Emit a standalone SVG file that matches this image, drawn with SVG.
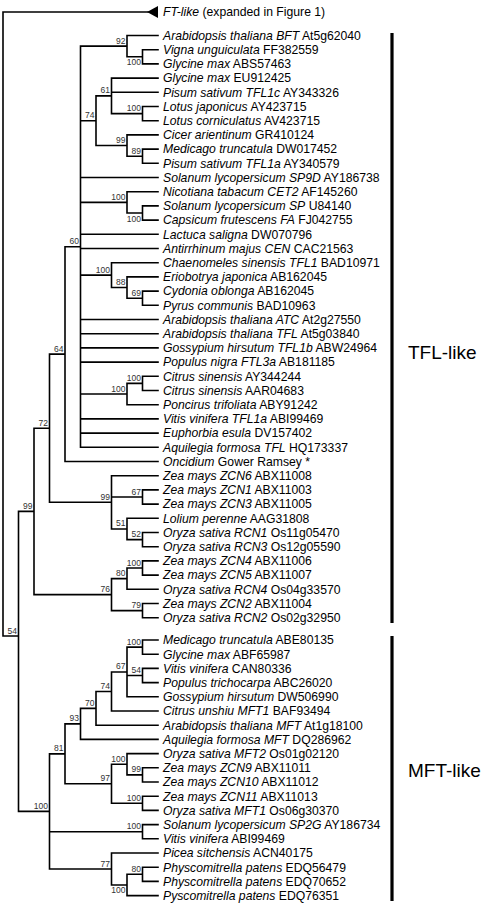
<svg xmlns="http://www.w3.org/2000/svg" width="497" height="907" viewBox="0 0 497 907">
<style>
.lf{font-family:"Liberation Sans",Arial,sans-serif;font-size:12.2px;fill:#000}
.i{font-style:italic}
.bs{font-family:"Liberation Sans",Arial,sans-serif;font-size:8.5px;fill:#333;text-anchor:end}
.edge{fill:none;stroke:#000;stroke-width:1.6;stroke-linecap:square}
.bar{stroke:#000;stroke-width:3.2}
.clade{font-family:"Liberation Sans",Arial,sans-serif;font-size:19px;fill:#000}
</style>
<rect width="497" height="907" fill="#fff"/>
<g id="connectors" class="edge">
<path d="M3 12V636M3 12H148M3 636H18.5
M18.5 511.4V811.4M18.5 511.4H34M18.5 811.4H49.5
M34 428.2V594.6M34 428.2H49.5M34 594.6H111.5
M49.5 354.1V502.3M49.5 354.1H65M49.5 502.3H111.5
M65 246.7V461.5M65 246.7H80.5M65 461.5H158
M80.5 46.15V447.3M80.5 46.15H127M80.5 120.7H96M80.5 177.5H158M80.5 202.35H127M80.5 234.3H158M80.5 248.5H158M80.5 275.1H111.5M80.5 319.5H158M80.5 333.7H158M80.5 347.9H158M80.5 362.1H158M80.5 394.05H127M80.5 418.9H158M80.5 433.1H158M80.5 447.3H158
M127 35.5V56.8M127 35.5H158M127 56.8H142.5
M142.5 49.7V63.9M142.5 49.7H158M142.5 63.9H158
M96 95.85V145.55M96 95.85H111.5M96 145.55H127
M111.5 78.1V113.6M111.5 78.1H158M111.5 92.3H158M111.5 113.6H142.5
M142.5 106.5V120.7M142.5 106.5H158M142.5 120.7H158
M127 134.9V156.2M127 134.9H158M127 156.2H142.5
M142.5 149.1V163.3M142.5 149.1H158M142.5 163.3H158
M127 191.7V213M127 191.7H158M127 213H142.5
M142.5 205.9V220.1M142.5 205.9H158M142.5 220.1H158
M111.5 262.7V287.55M111.5 262.7H158M111.5 287.55H127
M127 276.9V298.2M127 276.9H158M127 298.2H142.5
M142.5 291.1V305.3M142.5 291.1H158M142.5 305.3H158
M127 383.4V404.7M127 383.4H142.5M127 404.7H158
M142.5 376.3V390.5M142.5 376.3H158M142.5 390.5H158
M111.5 475.7V528.95M111.5 475.7H158M111.5 497H142.5M111.5 528.95H127
M142.5 489.9V504.1M142.5 489.9H158M142.5 504.1H158
M127 518.3V539.6M127 518.3H158M127 539.6H142.5
M142.5 532.5V546.7M142.5 532.5H158M142.5 546.7H158
M111.5 578.65V610.6M111.5 578.65H127M111.5 610.6H142.5
M127 568V589.3M127 568H142.5M127 589.3H158
M142.5 560.9V575.1M142.5 560.9H158M142.5 575.1H158
M142.5 603.5V617.7M142.5 603.5H158M142.5 617.7H158
M49.5 753.85V868.98M49.5 753.85H65M49.5 831.7H142.5M49.5 868.98H111.5
M65 723.9V783.8M65 723.9H80.5M65 783.8H111.5
M80.5 708.35V739.4M80.5 708.35H96M80.5 739.4H158
M96 691.5V725.2M96 691.5H111.5M96 725.2H158
M111.5 671.95V711M111.5 671.95H127M111.5 711H158
M127 647.1V696.8M127 647.1H142.5M127 675.5H142.5M127 696.8H158
M142.5 640V654.2M142.5 640H158M142.5 654.2H158
M142.5 668.4V682.6M142.5 668.4H158M142.5 682.6H158
M111.5 764.25V803.3M111.5 764.25H127M111.5 803.3H142.5
M127 753.6V774.9M127 753.6H158M127 774.9H142.5
M142.5 767.8V782M142.5 767.8H158M142.5 782H158
M142.5 796.2V810.4M142.5 796.2H158M142.5 810.4H158
M142.5 824.6V838.8M142.5 824.6H158M142.5 838.8H158
M111.5 853V884.95M111.5 853H158M111.5 884.95H127
M127 874.3V895.6M127 874.3H142.5M127 895.6H158
M142.5 867.2V881.4M142.5 867.2H158M142.5 881.4H158"/>
</g>
<g id="ft-like">
<polygon points="147,12 158,6 158,18" fill="#000"/>
<text class="lf" x="163" y="16.3"><tspan class="i">FT-like</tspan> (expanded in Figure 1)</text>
</g>
<g id="leaves">
<g id="l1"><text class="lf" x="163" y="39.8"><tspan class="i">Arabidopsis thaliana BFT</tspan> At5g62040</text></g>
<g id="l2"><text class="lf" x="163" y="54"><tspan class="i">Vigna unguiculata</tspan> FF382559</text></g>
<g id="l3"><text class="lf" x="163" y="68.2"><tspan class="i">Glycine max</tspan> ABS57463</text></g>
<g id="l4"><text class="lf" x="163" y="82.4"><tspan class="i">Glycine max</tspan> EU912425</text></g>
<g id="l5"><text class="lf" x="163" y="96.6"><tspan class="i">Pisum sativum TFL1c</tspan> AY343326</text></g>
<g id="l6"><text class="lf" x="163" y="110.8"><tspan class="i">Lotus japonicus</tspan> AY423715</text></g>
<g id="l7"><text class="lf" x="163" y="125"><tspan class="i">Lotus corniculatus</tspan> AV423715</text></g>
<g id="l8"><text class="lf" x="163" y="139.2"><tspan class="i">Cicer arientinum</tspan> GR410124</text></g>
<g id="l9"><text class="lf" x="163" y="153.4"><tspan class="i">Medicago truncatula</tspan> DW017452</text></g>
<g id="l10"><text class="lf" x="163" y="167.6"><tspan class="i">Pisum sativum TFL1a</tspan> AY340579</text></g>
<g id="l11"><text class="lf" x="163" y="181.8"><tspan class="i">Solanum lycopersicum SP9D</tspan> AY186738</text></g>
<g id="l12"><text class="lf" x="163" y="196"><tspan class="i">Nicotiana tabacum CET2</tspan> AF145260</text></g>
<g id="l13"><text class="lf" x="163" y="210.2"><tspan class="i">Solanum lycopersicum SP</tspan> U84140</text></g>
<g id="l14"><text class="lf" x="163" y="224.4"><tspan class="i">Capsicum frutescens FA</tspan> FJ042755</text></g>
<g id="l15"><text class="lf" x="163" y="238.6"><tspan class="i">Lactuca saligna</tspan> DW070796</text></g>
<g id="l16"><text class="lf" x="163" y="252.8"><tspan class="i">Antirrhinum majus CEN</tspan> CAC21563</text></g>
<g id="l17"><text class="lf" x="163" y="267"><tspan class="i">Chaenomeles sinensis TFL1</tspan> BAD10971</text></g>
<g id="l18"><text class="lf" x="163" y="281.2"><tspan class="i">Eriobotrya japonica</tspan> AB162045</text></g>
<g id="l19"><text class="lf" x="163" y="295.4"><tspan class="i">Cydonia oblonga</tspan> AB162045</text></g>
<g id="l20"><text class="lf" x="163" y="309.6"><tspan class="i">Pyrus communis</tspan> BAD10963</text></g>
<g id="l21"><text class="lf" x="163" y="323.8"><tspan class="i">Arabidopsis thaliana ATC</tspan> At2g27550</text></g>
<g id="l22"><text class="lf" x="163" y="338"><tspan class="i">Arabidopsis thaliana TFL</tspan> At5g03840</text></g>
<g id="l23"><text class="lf" x="163" y="352.2"><tspan class="i">Gossypium hirsutum TFL1b</tspan> ABW24964</text></g>
<g id="l24"><text class="lf" x="163" y="366.4"><tspan class="i">Populus nigra FTL3a</tspan> AB181185</text></g>
<g id="l25"><text class="lf" x="163" y="380.6"><tspan class="i">Citrus sinensis</tspan> AY344244</text></g>
<g id="l26"><text class="lf" x="163" y="394.8"><tspan class="i">Citrus sinensis</tspan> AAR04683</text></g>
<g id="l27"><text class="lf" x="163" y="409"><tspan class="i">Poncirus trifoliata</tspan> ABY91242</text></g>
<g id="l28"><text class="lf" x="163" y="423.2"><tspan class="i">Vitis vinifera TFL1a</tspan> ABI99469</text></g>
<g id="l29"><text class="lf" x="163" y="437.4"><tspan class="i">Euphorbia esula</tspan> DV157402</text></g>
<g id="l30"><text class="lf" x="163" y="451.6"><tspan class="i">Aquilegia formosa TFL</tspan> HQ173337</text></g>
<g id="l31"><text class="lf" x="163" y="465.8"><tspan class="i">Oncidium</tspan> Gower Ramsey *</text></g>
<g id="l32"><text class="lf" x="163" y="480"><tspan class="i">Zea mays ZCN6</tspan> ABX11008</text></g>
<g id="l33"><text class="lf" x="163" y="494.2"><tspan class="i">Zea mays ZCN1</tspan> ABX11003</text></g>
<g id="l34"><text class="lf" x="163" y="508.4"><tspan class="i">Zea mays ZCN3</tspan> ABX11005</text></g>
<g id="l35"><text class="lf" x="163" y="522.6"><tspan class="i">Lolium perenne</tspan> AAG31808</text></g>
<g id="l36"><text class="lf" x="163" y="536.8"><tspan class="i">Oryza sativa RCN1</tspan> Os11g05470</text></g>
<g id="l37"><text class="lf" x="163" y="551"><tspan class="i">Oryza sativa RCN3</tspan> Os12g05590</text></g>
<g id="l38"><text class="lf" x="163" y="565.2"><tspan class="i">Zea mays ZCN4</tspan> ABX11006</text></g>
<g id="l39"><text class="lf" x="163" y="579.4"><tspan class="i">Zea mays ZCN5</tspan> ABX11007</text></g>
<g id="l40"><text class="lf" x="163" y="593.6"><tspan class="i">Oryza sativa RCN4</tspan> Os04g33570</text></g>
<g id="l41"><text class="lf" x="163" y="607.8"><tspan class="i">Zea mays ZCN2</tspan> ABX11004</text></g>
<g id="l42"><text class="lf" x="163" y="622"><tspan class="i">Oryza sativa RCN2</tspan> Os02g32950</text></g>
<g id="l43"><text class="lf" x="163" y="644.3"><tspan class="i">Medicago truncatula</tspan> ABE80135</text></g>
<g id="l44"><text class="lf" x="163" y="658.5"><tspan class="i">Glycine max</tspan> ABF65987</text></g>
<g id="l45"><text class="lf" x="163" y="672.7"><tspan class="i">Vitis vinifera</tspan> CAN80336</text></g>
<g id="l46"><text class="lf" x="163" y="686.9"><tspan class="i">Populus trichocarpa</tspan> ABC26020</text></g>
<g id="l47"><text class="lf" x="163" y="701.1"><tspan class="i">Gossypium hirsutum</tspan> DW506990</text></g>
<g id="l48"><text class="lf" x="163" y="715.3"><tspan class="i">Citrus unshiu MFT1</tspan> BAF93494</text></g>
<g id="l49"><text class="lf" x="163" y="729.5"><tspan class="i">Arabidopsis thaliana MFT</tspan> At1g18100</text></g>
<g id="l50"><text class="lf" x="163" y="743.7"><tspan class="i">Aquilegia formosa MFT</tspan> DQ286962</text></g>
<g id="l51"><text class="lf" x="163" y="757.9"><tspan class="i">Oryza sativa MFT2</tspan> Os01g02120</text></g>
<g id="l52"><text class="lf" x="163" y="772.1"><tspan class="i">Zea mays ZCN9</tspan> ABX11011</text></g>
<g id="l53"><text class="lf" x="163" y="786.3"><tspan class="i">Zea mays ZCN10</tspan> ABX11012</text></g>
<g id="l54"><text class="lf" x="163" y="800.5"><tspan class="i">Zea mays ZCN11</tspan> ABX11013</text></g>
<g id="l55"><text class="lf" x="163" y="814.7"><tspan class="i">Oryza sativa MFT1</tspan> Os06g30370</text></g>
<g id="l56"><text class="lf" x="163" y="828.9"><tspan class="i">Solanum lycopersicum SP2G</tspan> AY186734</text></g>
<g id="l57"><text class="lf" x="163" y="843.1"><tspan class="i">Vitis vinifera</tspan> ABI99469</text></g>
<g id="l58"><text class="lf" x="163" y="857.3"><tspan class="i">Picea sitchensis</tspan> ACN40175</text></g>
<g id="l59"><text class="lf" x="163" y="871.5"><tspan class="i">Physcomitrella patens</tspan> EDQ56479</text></g>
<g id="l60"><text class="lf" x="163" y="885.7"><tspan class="i">Physcomitrella patens</tspan> EDQ70652</text></g>
<g id="l61"><text class="lf" x="163" y="899.9"><tspan class="i">Pyscomitrella patens</tspan> EDQ76351</text></g>
</g>
<g id="bootstrap">
<g id="n92"><text class="bs" x="125.5" y="43.6">92</text></g>
<g id="nA"><text class="bs" x="141" y="65.3">100</text></g>
<g id="n61"><text class="bs" x="110" y="93.3">61</text></g>
<g id="nLotus"><text class="bs" x="141" y="111.1">100</text></g>
<g id="n74"><text class="bs" x="94.5" y="118.2">74</text></g>
<g id="n99a"><text class="bs" x="125.5" y="143">99</text></g>
<g id="n89"><text class="bs" x="141" y="153.7">89</text></g>
<g id="nSol"><text class="bs" x="125.5" y="199.8">100</text></g>
<g id="nSolInner"><text class="bs" x="141" y="222">100</text></g>
<g id="n60"><text class="bs" x="79" y="244.2">60</text></g>
<g id="nRos"><text class="bs" x="110" y="272.6">100</text></g>
<g id="n88"><text class="bs" x="125.5" y="285">88</text></g>
<g id="n69"><text class="bs" x="141" y="295.7">69</text></g>
<g id="n64"><text class="bs" x="63.5" y="351.6">64</text></g>
<g id="nCitInner"><text class="bs" x="141" y="380.9">100</text></g>
<g id="nCit"><text class="bs" x="125.5" y="391.5">100</text></g>
<g id="n72"><text class="bs" x="48" y="425.7">72</text></g>
<g id="n99"><text class="bs" x="32.5" y="508.9">99</text></g>
<g id="n99z"><text class="bs" x="110" y="499.8">99</text></g>
<g id="n67z"><text class="bs" x="141" y="494.5">67</text></g>
<g id="n51"><text class="bs" x="125.5" y="526.4">51</text></g>
<g id="n52"><text class="bs" x="141" y="537.1">52</text></g>
<g id="nZ45"><text class="bs" x="141" y="565.5">100</text></g>
<g id="n80"><text class="bs" x="125.5" y="576.1">80</text></g>
<g id="n76"><text class="bs" x="110" y="592.1">76</text></g>
<g id="n79"><text class="bs" x="141" y="608.1">79</text></g>
<g id="n54"><text class="bs" x="17" y="633.5">54</text></g>
<g id="nMG"><text class="bs" x="141" y="644.6">100</text></g>
<g id="n67m"><text class="bs" x="125.5" y="669.4">67</text></g>
<g id="n54m"><text class="bs" x="141" y="673">54</text></g>
<g id="n74m"><text class="bs" x="110" y="689">74</text></g>
<g id="n70"><text class="bs" x="94.5" y="705.8">70</text></g>
<g id="n93"><text class="bs" x="79" y="721.4">93</text></g>
<g id="n81"><text class="bs" x="63.5" y="751.3">81</text></g>
<g id="n100a"><text class="bs" x="125.5" y="761.7">100</text></g>
<g id="n99m"><text class="bs" x="141" y="772.4">99</text></g>
<g id="n97"><text class="bs" x="110" y="781.3">97</text></g>
<g id="nMFT"><text class="bs" x="48" y="808.9">100</text></g>
<g id="n100b"><text class="bs" x="141" y="800.8">100</text></g>
<g id="nSP2G"><text class="bs" x="141" y="829.2">100</text></g>
<g id="n80m"><text class="bs" x="141" y="871.8">80</text></g>
<g id="n77"><text class="bs" x="110" y="866.5">77</text></g>
<g id="n100p"><text class="bs" x="125.5" y="893">100</text></g>
</g>
<g id="tfl-like">
<line class="bar" x1="392" y1="33" x2="392" y2="623"/>
<text class="clade" x="408" y="358.5">TFL-like</text>
</g>
<g id="mft-like">
<line class="bar" x1="392" y1="636" x2="392" y2="901"/>
<text class="clade" x="408" y="777">MFT-like</text>
</g>
</svg>
